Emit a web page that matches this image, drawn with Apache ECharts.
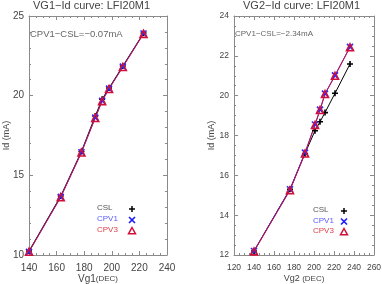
<!DOCTYPE html>
<html><head><meta charset="utf-8">
<script src="https://cdn.jsdelivr.net/npm/echarts@6/dist/echarts.min.js"></script>
<style>html,body{margin:0;padding:0;background:#fff}#c{width:382px;height:284px}</style>
</head><body><div id="c"></div>
<script>
// Left plot: VG1-Id
const vg1 = [140, 163, 178, 188, 193, 198, 208, 223];
const vg1CSL  = [10.25, 13.70, 16.50, 18.72, 19.78, 20.48, 21.86, 23.93];
const vg1CPV1 = [10.20, 13.65, 16.45, 18.62, 19.68, 20.44, 21.82, 23.90];
const vg1CPV3 = [10.20, 13.63, 16.43, 18.60, 19.66, 20.42, 21.80, 23.88];
// Right plot: VG2-Id
const vg2 = [140, 176, 191, 201, 206, 211, 221, 236];
const vg2CSL  = [12.20, 15.30, 17.10, 18.24, 18.69, 19.15, 20.12, 21.59];
const vg2CPV1 = [12.20, 15.30, 17.14, 18.55, 19.30, 20.10, 21.02, 22.45];
const vg2CPV3 = [12.18, 15.25, 17.10, 18.53, 19.28, 20.08, 21.00, 22.43];

const titles = ['VG1\u2212Id curve: LFI20M1', 'VG2\u2212Id curve: LFI20M1'];
const notes = ['CPV1\u2212CSL=\u22120.07mA', 'CPV1\u2212CSL=\u22122.34mA'];
const legendNames = ['CSL', 'CPV1', 'CPV3'];

const FONT = 'Liberation Sans, Arial, sans-serif';
const AX = '#8a8a8a';
const TXT = '#444';
const C_CSL = '#000000', C_CPV1 = '#2a2aff', C_CPV3 = '#d0103a';
const PLUS = 'path://M0,-1L0,1M-1,0L1,0';
const CROSS = 'path://M-1,-1L1,1M-1,1L1,-1';
const TRI = 'path://M0,-1L1,0.8L-1,0.8Z';

function zip(x, y) { return x.map((v, i) => [v, y[i]]); }

const chart = echarts.init(document.getElementById('c'), null, {renderer: 'canvas'});

function xAx(grid, min, max, interval, fs, name, nameRich, show) {
  return {
    gridIndex: grid, type: 'value', min, max, interval,
    position: show ? 'bottom' : 'top',
    axisLine: {show: true, onZero: false, lineStyle: {color: AX, width: 1}},
    axisTick: {show: true, inside: true, length: 4, lineStyle: {color: AX}},
    minorTick: {show: true, splitNumber: 4, length: 2, lineStyle: {color: AX}},
    splitLine: {show: false},
    axisLabel: {show: show, color: TXT, fontSize: fs, fontFamily: FONT, margin: 8},
    name: show ? name : '', nameLocation: 'middle', nameGap: 19, nameMoveOverlap: false,
    nameTextStyle: {rich: nameRich}
  };
}
function yAx(grid, min, max, interval, minorSplit, fs, show) {
  return {
    gridIndex: grid, type: 'value', min, max, interval,
    position: show ? 'left' : 'right',
    axisLine: {show: true, onZero: false, lineStyle: {color: AX, width: 1}},
    axisTick: {show: true, inside: true, length: 4, lineStyle: {color: AX}},
    minorTick: {show: true, splitNumber: minorSplit, length: 2, lineStyle: {color: AX}},
    splitLine: {show: false},
    axisLabel: {show: show, color: TXT, fontSize: fs, fontFamily: FONT, margin: 5},
    name: show ? 'Id (mA)' : '', nameLocation: 'middle', nameRotate: 90, nameMoveOverlap: false,
    nameGap: 18, nameTextStyle: {color: TXT, fontSize: 9, fontFamily: FONT}
  };
}

function series(name, xi, yi, data, color, symbol, size) {
  return {
    name, type: 'line', xAxisIndex: xi, yAxisIndex: yi, data,
    symbol, symbolSize: size, showSymbol: true,
    lineStyle: {color, width: 1},
    itemStyle: {color: 'rgba(0,0,0,0)', borderColor: color, borderWidth: 1.6},
    emphasis: {disabled: true}, animation: false
  };
}

const richL = {a: {fontSize: 10, color: TXT, fontFamily: FONT}, b: {fontSize: 8, color: TXT, fontFamily: FONT}};
const richR = {a: {fontSize: 9, color: TXT, fontFamily: FONT}, b: {fontSize: 8, color: TXT, fontFamily: FONT}};

function legendGraphic(textX, symX, y0, gap, fs) {
  const els = [];
  const cols = ['#555555', '#5a5aff', '#e0404a'];
  legendNames.forEach((n, i) => {
    els.push({type: 'text', left: textX, top: y0 + i * gap - fs / 2 - 1,
      style: {text: n, fill: cols[i], font: fs + 'px ' + FONT}});
  });
  const y = y0, s = 3;
  els.push({type: 'polyline', shape: {points: [[symX - s, y], [symX + s, y]]}, style: {stroke: C_CSL, lineWidth: 1.5}});
  els.push({type: 'polyline', shape: {points: [[symX, y - s], [symX, y + s]]}, style: {stroke: C_CSL, lineWidth: 1.5}});
  const y1 = y0 + gap;
  els.push({type: 'polyline', shape: {points: [[symX - s, y1 - s], [symX + s, y1 + s]]}, style: {stroke: '#1a1aff', lineWidth: 1.6}});
  els.push({type: 'polyline', shape: {points: [[symX - s, y1 + s], [symX + s, y1 - s]]}, style: {stroke: '#1a1aff', lineWidth: 1.6}});
  const y2 = y0 + 2 * gap;
  els.push({type: 'polygon', shape: {points: [[symX, y2 - 3.5], [symX + 3.5, y2 + 2.8], [symX - 3.5, y2 + 2.8]]}, style: {fill: 'none', stroke: C_CPV3, lineWidth: 1.5}});
  return els;
}

const option = {
  backgroundColor: '#fff',
  animation: false,
  grid: [
    {left: 29, right: 215, top: 16, bottom: 29, containLabel: false, outerBoundsMode: 'none'},
    {left: 234, right: 8, top: 16, bottom: 29, containLabel: false, outerBoundsMode: 'none'}
  ],
  xAxis: [
    xAx(0, 140, 240, 20, 10, '{a|Vg1}{b|(DEC)}', richL, true),
    xAx(0, 140, 240, 20, 10, '', richL, false),
    xAx(1, 120, 260, 20, 8.5, '{a|Vg2 }{b|(DEC)}', richR, true),
    xAx(1, 120, 260, 20, 8.5, '', richR, false)
  ],
  yAxis: [
    yAx(0, 10, 25, 5, 5, 10, true),
    yAx(0, 10, 25, 5, 5, 10, false),
    yAx(1, 12, 24, 2, 4, 8.5, true),
    yAx(1, 12, 24, 2, 4, 8.5, false)
  ],
  series: [
    series('CSL', 0, 0, zip(vg1, vg1CSL), C_CSL, PLUS, 6),
    series('CPV1', 0, 0, zip(vg1, vg1CPV1), C_CPV1, CROSS, 6),
    series('CPV3', 0, 0, zip(vg1, vg1CPV3), C_CPV3, TRI, 7),
    series('CSL', 2, 2, zip(vg2, vg2CSL), C_CSL, PLUS, 6),
    series('CPV1', 2, 2, zip(vg2, vg2CPV1), C_CPV1, CROSS, 6),
    series('CPV3', 2, 2, zip(vg2, vg2CPV3), C_CPV3, TRI, 7)
  ],
  graphic: [
    {type: 'text', left: 98 - 65, top: 0, style: {text: titles[0], fill: TXT, font: '11px ' + FONT}},
    {type: 'text', left: 304 - 61, top: 0, style: {text: titles[1], fill: TXT, font: '11px ' + FONT}},
    {type: 'text', left: 30, top: 29, style: {text: notes[0], fill: '#666', font: '9.5px ' + FONT}},
    {type: 'text', left: 235, top: 30, style: {text: notes[1], fill: '#666', font: '8px ' + FONT}}
  ].concat(legendGraphic(97, 132, 209, 11, 8)).concat(legendGraphic(313, 344, 211, 10.5, 8))
};
chart.setOption(option);
</script>
</body></html>
